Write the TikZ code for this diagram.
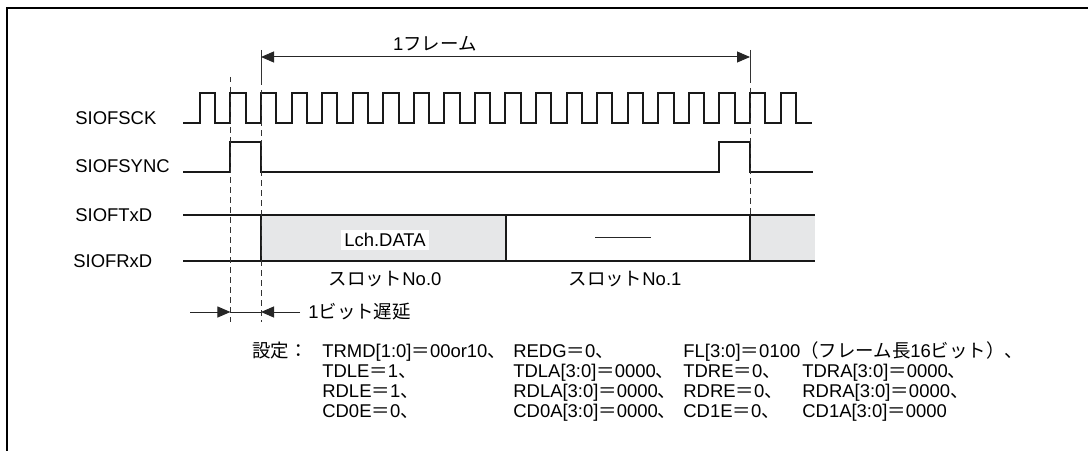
\documentclass[tikz,border=0pt]{standalone}
\usepackage{fontspec}
\setmainfont{Liberation Sans}
\newfontfamily\jp{Noto Sans CJK JP}
\usetikzlibrary{arrows.meta}
\definecolor{slotgrey}{RGB}{230,231,232}
\newcommand{\zeq}{{\jp ＝}}
\newcommand{\zc}{{\jp 、}}

\begin{document}
\begin{tikzpicture}[
  x=0.2mm,y=-0.2mm,
  font=\fontsize{10.5}{12.5}\selectfont,
  >={Triangle[length=2.6mm,width=2.2mm]},
  wave/.style={draw=black!90,line width=0.4mm,line join=miter},
  guide/.style={draw=black!80,line width=0.2mm,dash pattern=on 1.1mm off 0.9mm},
  extline/.style={draw=black!80,line width=0.2mm},
  dim/.style={draw=black!85,line width=0.2mm},
  sig/.style={anchor=west,inner sep=0pt},
  setting/.style={anchor=base west,inner sep=0pt}]
\useasboundingbox (0,0) rectangle (1088,451);
\draw[line width=0.4mm] (7,451)--(7,8)--(1088,8);

\def\T{30.56}
\def\xs{261}

% signal names
\node[sig] (sck) at (75,118) {SIOFSCK};
\node[sig] (sync) at (75,166) {SIOFSYNC};
\node[sig] (txd) at (75,215) {SIOFTxD};
\node[sig] (rxd) at (73,261) {SIOFRxD};

% data slots
\fill[slotgrey] (\xs,215) rectangle (505.5,261);
\fill[slotgrey] (750,215) rectangle (815,261);

% waveforms
\draw[wave] (183,123) foreach \k in {0,...,19} {
  -| ({\xs+(\k-2)*\T},93) -| ({\xs+(\k-1.5)*\T},123) } -- (812,123);
\draw[wave] (183,172) -| ({\xs-\T},142) -| (\xs,172)
  -| ({\xs+15*\T},142) -| ({\xs+16*\T},172) -- (813,172);
\draw[wave] (183,215)--(815,215);
\draw[wave] (183,261)--(815,261);
\draw[wave] (\xs,215)--(\xs,261) (505.5,215)--(505.5,261) (750,215)--(750,261);

\node[fill=white,inner sep=2pt] (lch) at (385,240) {Lch.DATA};
\draw[dim] (595,237)--(651,237);
\node (slot0) at (385,279) {{\jp スロット}No.0};
\node (slot1) at (625,279) {{\jp スロット}No.1};

% guide lines
\draw[guide] ({\xs-\T},77)--({\xs-\T},322);
\draw[extline] (\xs,50)--(\xs,80);
\draw[guide] (\xs,80)--(\xs,322);
\draw[extline] (750,50)--(750,78);
\draw[guide] (750,78)--(750,215);

% frame length
\coordinate (fs) at (\xs,57);
\coordinate (fe) at (750,57);
\draw[dim,<->] (fs)--(fe);
\node (framelbl) at (435,44) {1{\jp フレーム}};

% one bit delay
\coordinate (d0) at (190,312);
\coordinate (d1) at ({\xs-\T},312);
\coordinate (d2) at (\xs,312);
\coordinate (d3) at (300,312);
\draw[dim,->] (d0)--(d1);
\draw[dim] (d1)--(d2);
\draw[dim,->] (d3)--(d2);
\node[sig] (delay) at (308,312) {1{\jp ビット遅延}};

% settings
\node[setting] (setlbl) at (252,357) {\jp 設定：};
\node[setting] (trmd) at (322,357) {TRMD[1:0]\zeq 00or10\zc};
\node[setting] (tdle) at (322,377) {TDLE\zeq 1\zc};
\node[setting] (rdle) at (322,397) {RDLE\zeq 1\zc};
\node[setting] (cd0e) at (322,417) {CD0E\zeq 0\zc};
\node[setting] (redg) at (513,357) {REDG\zeq 0\zc};
\node[setting] (tdla) at (513,377) {TDLA[3:0]\zeq 0000\zc};
\node[setting] (rdla) at (513,397) {RDLA[3:0]\zeq 0000\zc};
\node[setting] (cd0a) at (513,417) {CD0A[3:0]\zeq 0000\zc};
\node[setting] (fl) at (683,357) {FL[3:0]\zeq 0100{\jp （フレーム長}16{\jp ビット）、}};
\node[setting] (tdre) at (683,377) {TDRE\zeq 0\zc};
\node[setting] (rdre) at (683,397) {RDRE\zeq 0\zc};
\node[setting] (cd1e) at (683,417) {CD1E\zeq 0\zc};
\node[setting] (tdra) at (802,377) {TDRA[3:0]\zeq 0000\zc};
\node[setting] (rdra) at (802,397) {RDRA[3:0]\zeq 0000\zc};
\node[setting] (cd1a) at (802,417) {CD1A[3:0]\zeq 0000};
\end{tikzpicture}
\end{document}
